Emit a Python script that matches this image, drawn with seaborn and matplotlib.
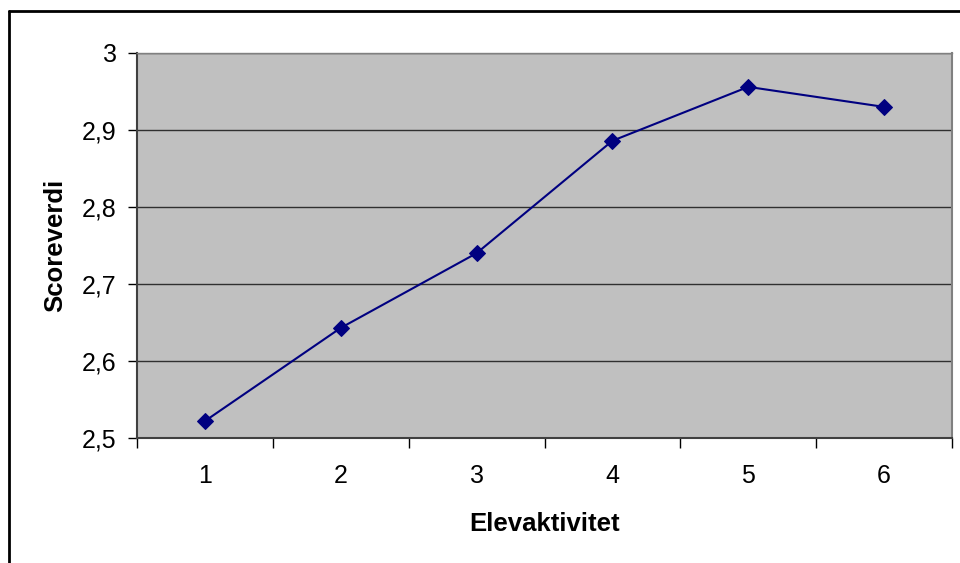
import numpy as np
import pandas as pd
import matplotlib
matplotlib.use('Agg')
import matplotlib.pyplot as plt
from matplotlib.lines import Line2D
from matplotlib.ticker import FuncFormatter
import seaborn as sns

# Data
activity = [1, 2, 3, 4, 5, 6]
score = [2.522, 2.643, 2.740, 2.886, 2.956, 2.930]
y_ticks = [2.5, 2.6, 2.7, 2.8, 2.9, 3.0]

df = pd.DataFrame({'Elevaktivitet': activity, 'Scoreverdi': score})

sns.set_style("white")
plt.rcParams['font.family'] = ['Liberation Sans', 'DejaVu Sans']
plt.rcParams['text.color'] = 'black'
plt.rcParams['axes.labelcolor'] = 'black'
plt.rcParams['xtick.color'] = 'black'
plt.rcParams['ytick.color'] = 'black'

fig = plt.figure(figsize=(9.6, 5.63), dpi=100)
ax = fig.add_axes([137 / 960, 125 / 563, 815 / 960, 385 / 563])
ax.set_facecolor('#C0C0C0')

# Horizontal gridlines
for yv in y_ticks:
    ax.axhline(yv, color='#303030', lw=1.0, zorder=1)

sns.lineplot(data=df, x='Elevaktivitet', y='Scoreverdi', ax=ax,
             color='#000080', lw=1.5, marker='D', markersize=8,
             markeredgecolor='#000080', zorder=3)

ax.set_xlim(0.5, 6.5)
ax.set_ylim(2.5, 3.0)
ax.set_yticks(y_ticks)
ax.yaxis.set_major_formatter(FuncFormatter(lambda v, p: f'{v:g}'.replace('.', ',')))
ax.set_xticks(activity)
ax.set_xticks(np.arange(0.5, 7.0, 1.0), minor=True)
ax.tick_params(axis='x', which='both', bottom=True)
ax.tick_params(axis='y', which='major', left=True)
ax.tick_params(axis='x', which='major', length=0, pad=19, labelsize=18)
ax.tick_params(axis='x', which='minor', length=7, width=1, color='black', direction='out')
ax.tick_params(axis='y', which='major', length=6.5, width=1, color='black',
               direction='out', labelsize=18, pad=8)

for s in ['left', 'bottom']:
    ax.spines[s].set_color('#404040')
    ax.spines[s].set_linewidth(1.5)
ax.spines['right'].set_color('#808080')
ax.spines['right'].set_linewidth(1.5)
ax.spines['top'].set_color('#808080')
ax.spines['top'].set_linewidth(1.0)

ax.set_xlabel('Elevaktivitet', fontsize=18.5, fontweight='bold', labelpad=17)
ax.set_ylabel('Scoreverdi', fontsize=18.5, fontweight='bold', labelpad=11)

# Chart border (left and top visible)
fig.add_artist(Line2D([8.5 / 960, 8.5 / 960], [0, 1 - 11 / 563], color='black', lw=2))
fig.add_artist(Line2D([8.5 / 960, 1], [1 - 11 / 563, 1 - 11 / 563], color='black', lw=2))

fig.savefig('out.png', dpi=100, facecolor='white')
